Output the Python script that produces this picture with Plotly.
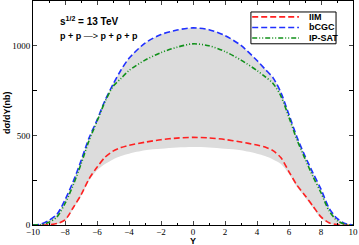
import plotly.graph_objects as go

# Rapidity values
Y = [-10, -9.5, -9, -8.5, -8, -7.5, -7, -6.5, -6, -5.5, -5, -4.5, -4, -3, -2, -1, 0,
     1, 2, 3, 4, 4.5, 5, 5.5, 6, 6.5, 7, 7.5, 8, 8.5, 9, 9.5, 10]
# dsigma/dY (nb)
bcgc = [0, 5, 26, 60, 140, 240, 358, 485, 585, 695, 785, 865, 930, 1015, 1063, 1088, 1100,
        1090, 1057, 1002, 918, 870, 822, 738, 615, 490, 385, 290, 200, 95, 37, 8, 0]
ipsat = [0, 2, 15, 45, 120, 220, 340, 470, 578, 688, 773, 818, 862, 920, 962, 992, 1011,
         1000, 968, 920, 862, 828, 790, 718, 600, 475, 370, 270, 180, 80, 25, 4, 0]
iim = [0, 0, 2, 8, 28, 95, 168, 257, 322, 378, 412, 432, 445, 462, 476, 485, 489,
       486, 477, 463, 446, 435, 415, 375, 297, 222, 165, 105, 45, 12, 2, 0, 0]
band_low = [0, 0, 1, 5, 22, 88, 160, 245, 305, 340, 366, 385, 398, 417, 425, 432, 435,
            432, 425, 417, 398, 385, 366, 340, 285, 212, 155, 95, 38, 9, 1, 0, 0]

names = ["IIM", "bCGC", "IP-SAT"]
colors = ["#ff2020", "#2030ff", "#10901a"]
dashes = ["6px,3px", "6px,3px", "5px,2px,1px,2px,1px,2px"]

fig = go.Figure()
fig.add_trace(go.Scatter(x=Y, y=band_low, mode="lines", line=dict(width=0, shape="spline", smoothing=0.8),
                         showlegend=False, hoverinfo="skip"))
fig.add_trace(go.Scatter(x=Y, y=bcgc, mode="lines", line=dict(width=0, shape="spline", smoothing=0.8),
                         fill="tonexty", fillcolor="#dcdcdc", showlegend=False, hoverinfo="skip"))
for nm, vals, c, d in zip(names, [iim, bcgc, ipsat], colors, dashes):
    fig.add_trace(go.Scatter(x=Y, y=vals, mode="lines", name=nm, showlegend=False,
                             line=dict(color=c, width=1.6, dash=d, shape="spline", smoothing=0.8)))

tickfont = dict(family="Liberation Serif", size=9, color="black")
fig.update_xaxes(range=[-10, 10], dtick=2, tick0=-10, ticks="inside", ticklen=4,
                 showline=True, linecolor="black", linewidth=1, mirror="ticks",
                 showgrid=False, zeroline=False, tickfont=tickfont, automargin=False,
                 ticklabelstandoff=-2,
                 minor=dict(ticks="inside", dtick=1, ticklen=2, tickcolor="black"))
fig.update_yaxes(range=[0, 1250], tickvals=[0, 500, 1000], ticks="inside", ticklen=4,
                 showline=True, linecolor="black", linewidth=1, mirror="ticks",
                 showgrid=False, zeroline=False, tickfont=tickfont, automargin=False,
                 minor=dict(ticks="inside", tickvals=[250, 750], ticklen=4, tickcolor="black"))

lab = dict(family="Liberation Sans", size=9, color="black")
# axis titles
fig.add_annotation(x=0.5, y=-0.073, xref="paper", yref="paper", xanchor="center", yanchor="middle",
                   text="<b>Y</b>", showarrow=False, font=lab)
fig.add_annotation(x=-0.081, y=0.5, xref="paper", yref="paper", xanchor="center", yanchor="middle",
                   text="<b>dσ/dY(nb)</b>", textangle=-90, showarrow=False, font=lab)

fig.add_annotation(x=-8.45, y=1140, xref="x", yref="y", xanchor="left", yanchor="middle",
                   text="<b>s<sup>1/2</sup> = 13 TeV</b>", showarrow=False,
                   font=dict(family="Liberation Sans", size=10, color="black"))
fig.add_annotation(x=-8.45, y=1055, xref="x", yref="y", xanchor="left", yanchor="middle",
                   text="<b>p + p</b> —> <b>p + ρ + p</b>", showarrow=False, font=lab)

# legend box (drawn in paper coordinates)
fig.add_shape(type="rect", xref="paper", yref="paper", x0=0.681, x1=0.947, y0=0.809, y1=0.951,
              line=dict(color="black", width=1), fillcolor="white", layer="above")
row_y = [0.929, 0.882, 0.835]
for nm, c, d, ry in zip(names, colors, dashes, row_y):
    fig.add_shape(type="line", xref="paper", yref="paper", x0=0.685, x1=0.831, y0=ry, y1=ry,
                  line=dict(color=c, width=1.6, dash=d), layer="above")
    fig.add_annotation(x=0.856, y=ry, xref="paper", yref="paper", xanchor="left", yanchor="middle",
                       text=f"<b>{nm}</b>", showarrow=False, font=lab)

fig.update_layout(
    width=359, height=245,
    margin=dict(l=33, r=6, t=1, b=20),
    plot_bgcolor="white", paper_bgcolor="white",
    showlegend=False,
)

fig.write_html("out.html", config={"displayModeBar": False, "staticPlot": True},
               post_script="document.body.style.margin='0';document.body.style.padding='0';")
